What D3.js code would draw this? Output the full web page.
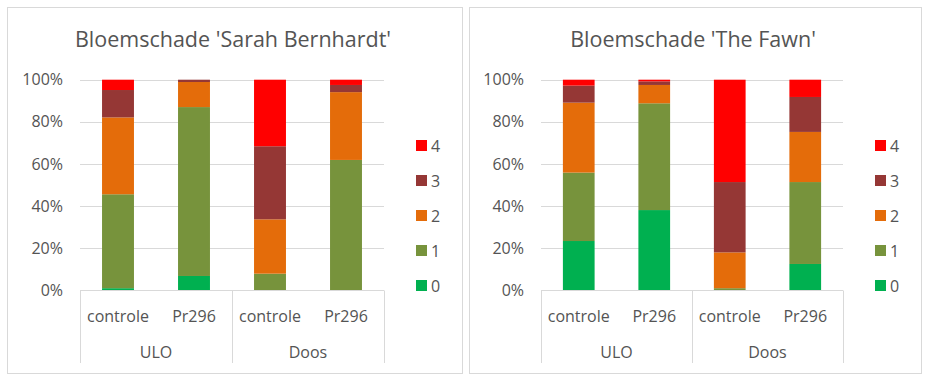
<!DOCTYPE html>
<html><head><meta charset="utf-8">
<script src="https://cdn.jsdelivr.net/npm/d3@7"></script>
<style>
body{margin:0;background:#fff;}
svg text{font-family:"Open Sans",sans-serif;fill:#545454;}
</style></head>
<body><svg id="c" width="930" height="382"></svg>
<script>
const scores = ["0","1","2","3","4"];
const colors = ["#00B050","#77933C","#E46C0A","#953735","#FF0000"];
const bars = ["controle","Pr296","controle","Pr296"];
const groups = ["ULO","Doos"];
const yTicks = [0,20,40,60,80,100];
const titles = ["Bloemschade 'Sarah Bernhardt'","Bloemschade 'The Fawn'"];
// percentages per bar for scores 0..4
const sarah = [
  [1.0, 44.6, 36.5, 13.0, 4.9],
  [6.8, 80.2, 11.9, 1.1, 0.0],
  [0.0, 7.9, 25.8, 34.7, 31.6],
  [0.0, 61.9, 32.2, 3.4, 2.5]
];
const fawn = [
  [23.4, 32.5, 33.2, 8.1, 2.8],
  [38.1, 50.7, 8.7, 1.7, 0.8],
  [0.0, 1.0, 17.0, 33.4, 48.6],
  [12.5, 38.9, 23.8, 16.6, 8.2]
];

const svg = d3.select("#c");
const panels = [
  {data: sarah, title: titles[0], box:[7,7,462,373], plot:[80,384], legX:416},
  {data: fawn, title: titles[1], box:[469,7,921,373], plot:[541,843], legX:875}
];
const yTop = 79.7, yBot = 290.3;
const y = d3.scaleLinear().domain([0,100]).range([yBot,yTop]);

panels.forEach(p => {
  const g = svg.append("g");
  g.append("rect").attr("x",p.box[0]+0.5).attr("y",p.box[1]+0.5)
    .attr("width",p.box[2]-p.box[0]).attr("height",p.box[3]-p.box[1])
    .attr("fill","#fff").attr("stroke","#d9d9d9").attr("stroke-width",1);
  g.append("text").attr("x",(p.plot[0]+p.plot[1])/2 + 1).attr("y",47)
    .attr("text-anchor","middle").attr("font-size",21.5).text(p.title);

  const x = d3.scaleBand().domain(d3.range(bars.length)).range(p.plot).paddingInner(0.58).paddingOuter(0.29);
  // gridlines
  g.selectAll("line.grid").data(yTicks.filter(t=>t>0)).join("line")
    .attr("x1",p.plot[0]).attr("x2",p.plot[1])
    .attr("y1",d=>Math.round(y(d))+0.5).attr("y2",d=>Math.round(y(d))+0.5)
    .attr("stroke","#d9d9d9");
  // y axis labels
  const ya = d3.axisLeft(y).tickValues(yTicks).tickFormat(d=>d+"%").tickSize(0).tickPadding(0);
  const yg = g.append("g").attr("transform",`translate(${p.plot[0]-17},0)`).call(ya);
  yg.select(".domain").remove();
  yg.selectAll("text").attr("font-size",16).attr("fill","#545454").attr("font-family","Open Sans");

  // stacked bars
  const stack = d3.stack().keys(d3.range(scores.length))(p.data);
  stack.forEach((layer,k) => {
    g.append("g").attr("fill",colors[k]).selectAll("rect").data(layer).join("rect")
      .attr("x",(d,i)=>x(i)).attr("width",x.bandwidth())
      .attr("y",d=>y(d[1])).attr("height",d=>Math.max(0,y(d[0])-y(d[1])));
  });

  // category axis
  const axisY = Math.round(yBot)+0.5;
  g.append("line").attr("x1",p.plot[0]).attr("x2",p.plot[1]).attr("y1",axisY).attr("y2",axisY).attr("stroke","#d9d9d9");
  const step = (p.plot[1]-p.plot[0])/groups.length;
  d3.range(groups.length+1).forEach(i=>{
    const xx = Math.round(p.plot[0]+i*step)+0.5;
    g.append("line").attr("x1",xx).attr("x2",xx).attr("y1",axisY).attr("y2",363).attr("stroke","#d9d9d9");
  });
  g.selectAll("text.cat").data(bars).join("text").attr("class","cat")
    .attr("x",(d,i)=>x(i)+x.bandwidth()/2).attr("y",322).attr("text-anchor","middle")
    .attr("font-size",16).text(d=>d);
  g.selectAll("text.grp").data(groups).join("text").attr("class","grp")
    .attr("x",(d,i)=>p.plot[0]+step*(i+0.5)).attr("y",358).attr("text-anchor","middle")
    .attr("font-size",16).text(d=>d);

  // legend
  const legY = d3.scalePoint().domain(scores.slice().reverse()).range([146,286]);
  scores.forEach((s,k)=>{
    g.append("rect").attr("x",p.legX).attr("y",legY(s)-6).attr("width",11).attr("height",11).attr("fill",colors[k]);
    g.append("text").attr("x",p.legX+15).attr("y",legY(s)+6).attr("font-size",16).text(s);
  });
});
</script></body></html>
